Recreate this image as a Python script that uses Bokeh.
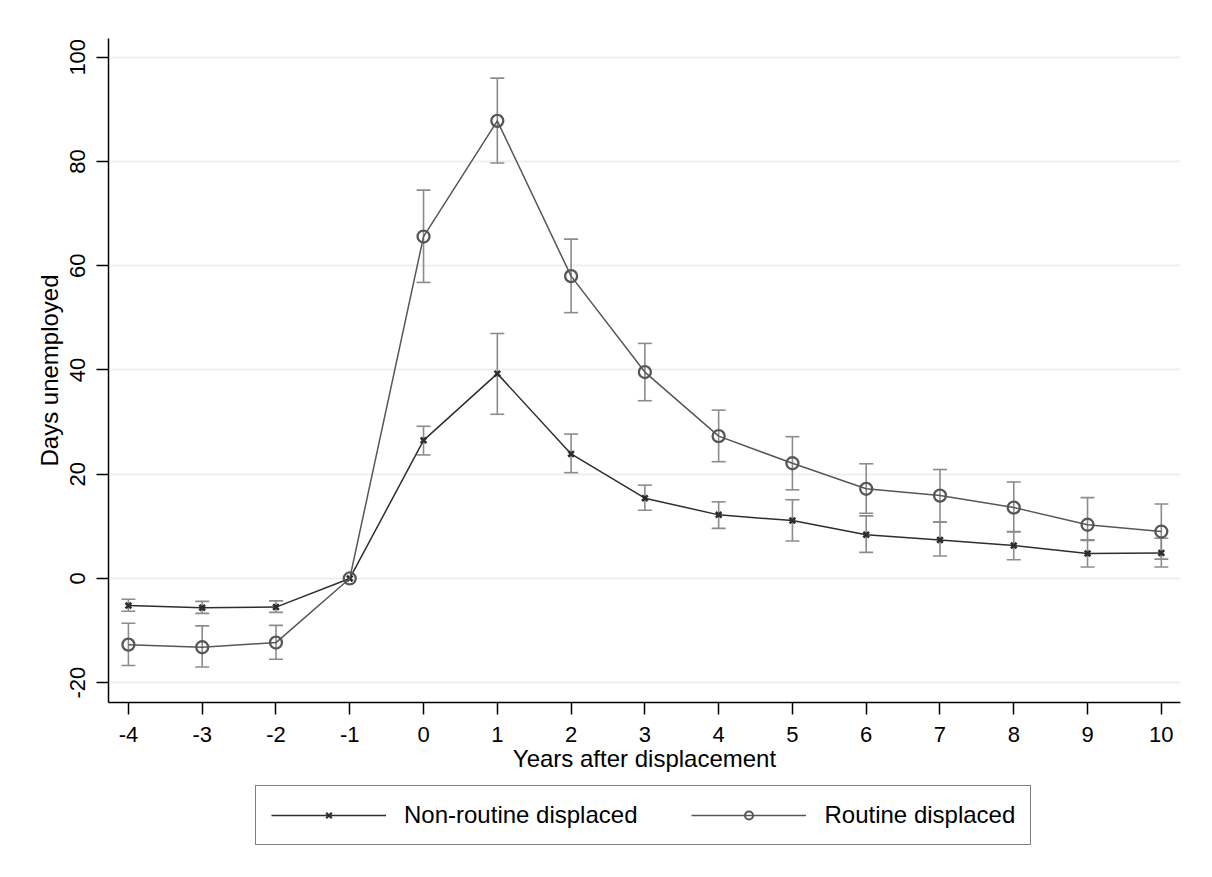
from bokeh.embed import file_html
from bokeh.resources import INLINE
from bokeh.layouts import column
from bokeh.models import ColumnDataSource, Legend, LegendItem, Whisker, TeeHead, FixedTicker
from bokeh.plotting import figure

# years relative to displacement
years = [-4, -3, -2, -1, 0, 1, 2, 3, 4, 5, 6, 7, 8, 9, 10]

nonroutine = [-5.2, -5.6, -5.5, 0, 26.5, 39.3, 23.9, 15.4, 12.2, 11.1, 8.4, 7.4, 6.3, 4.8, 4.9]
nonroutine_lo = [-6.3, -6.7, -6.5, 0, 23.7, 31.5, 20.3, 13.1, 9.6, 7.2, 5.0, 4.3, 3.6, 2.2, 2.2]
nonroutine_hi = [-4.0, -4.4, -4.3, 0, 29.2, 47.0, 27.7, 17.9, 14.7, 15.1, 12.0, 10.8, 9.0, 7.4, 7.7]

routine = [-12.7, -13.2, -12.3, 0, 65.6, 87.8, 58.0, 39.6, 27.3, 22.1, 17.2, 15.9, 13.6, 10.3, 9.0]
routine_lo = [-16.7, -17.0, -15.5, 0, 56.8, 79.7, 51.0, 34.1, 22.4, 17.0, 12.5, 10.8, 8.9, 7.3, 3.7]
routine_hi = [-8.6, -9.1, -9.0, 0, 74.5, 96.0, 65.1, 45.1, 32.3, 27.2, 22.0, 20.9, 18.5, 15.5, 14.3]

y_ticks = [-20, 0, 20, 40, 60, 80, 100]

FONT = "Liberation Sans"
BAR = "#8c8c8c"
NR_COL = "#2e2e2e"
R_COL = "#575757"

p = figure(
    width=1196,
    height=780,
    x_range=(-4.27, 10.26),
    y_range=(-23.8, 103.6),
    output_backend="svg",
    toolbar_location=None,
    min_border_left=108,
    min_border_top=38,
    min_border_right=16,
    min_border_bottom=78,
)

# error bars, skipping the reference year
def bars(lo, hi):
    keep = [i for i, y in enumerate(years) if y != -1]
    return ColumnDataSource(dict(
        x=[years[i] for i in keep],
        lo=[lo[i] for i in keep],
        hi=[hi[i] for i in keep],
    ))

for lo, hi in [(routine_lo, routine_hi), (nonroutine_lo, nonroutine_hi)]:
    w = Whisker(
        source=bars(lo, hi), base="x", lower="lo", upper="hi",
        line_color=BAR, line_width=1.6, level="underlay",
    )
    w.upper_head = TeeHead(size=14, line_color=BAR, line_width=1.6)
    w.lower_head = TeeHead(size=14, line_color=BAR, line_width=1.6)
    p.add_layout(w)

p.line(years, nonroutine, line_color=NR_COL, line_width=1.5)
p.scatter(years, nonroutine, marker="x", size=8, line_color=NR_COL, line_width=2.6)
p.line(years, routine, line_color=R_COL, line_width=1.5)
p.scatter(years, routine, marker="circle", size=12, fill_color=None,
          line_color=R_COL, line_width=2.3)

p.xaxis.ticker = FixedTicker(ticks=years)
p.yaxis.ticker = FixedTicker(ticks=y_ticks)
# plain hyphen for negatives, as in the original
p.xaxis.major_label_overrides = {t: str(t) for t in years}
p.yaxis.major_label_overrides = {t: str(t) for t in y_ticks}
p.xaxis.axis_label = "Years after displacement"
p.yaxis.axis_label = "Days unemployed"
p.yaxis.major_label_orientation = "vertical"

for ax in p.axis:
    ax.axis_line_color = "black"
    ax.axis_line_width = 1.5
    ax.major_tick_line_color = "black"
    ax.major_tick_line_width = 1.5
    ax.major_tick_in = 0
    ax.major_tick_out = 12
    ax.minor_tick_line_color = None
    ax.major_label_text_font = FONT
    ax.major_label_text_font_size = "22px"
    ax.major_label_text_color = "black"
    ax.axis_label_text_font = FONT
    ax.axis_label_text_font_size = "24px"
    ax.axis_label_text_font_style = "normal"
    ax.axis_label_text_color = "black"

p.xaxis.major_label_standoff = 12
p.yaxis.major_label_standoff = 11
p.xaxis.axis_label_standoff = 0
p.yaxis.axis_label_standoff = 5

p.xgrid.grid_line_color = None
p.ygrid.grid_line_color = "#eaf1f3"
p.ygrid.grid_line_width = 2
p.outline_line_color = None

# legend lives in its own strip under the chart; the series are drawn
# there too but far outside its ranges, so only the legend shows
leg = figure(
    width=1196, height=81, x_range=(100, 101), y_range=(100, 101),
    output_backend="svg", toolbar_location=None,
    min_border=0, outline_line_color=None,
)
leg.axis.visible = False
leg.grid.visible = False
l1 = leg.line(years, nonroutine, line_color=NR_COL, line_width=1.5)
s1 = leg.scatter(years, nonroutine, marker="x", size=7, line_color=NR_COL, line_width=2.2)
l2 = leg.line(years, routine, line_color=R_COL, line_width=1.5)
s2 = leg.scatter(years, routine, marker="circle", size=9, fill_color=None,
                 line_color=R_COL, line_width=2)

legend = Legend(
    items=[
        LegendItem(label="Non-routine displaced", renderers=[l1, s1], index=0),
        LegendItem(label="Routine displaced", renderers=[l2, s2], index=0),
    ],
    orientation="horizontal",
    location=(147, 16),
    glyph_width=115,
    glyph_height=20,
    label_standoff=18,
    spacing=54,
    padding=15,
    margin=0,
    border_line_color="black",
    border_line_width=1.8,
    label_text_font=FONT,
    label_text_font_size="24px",
    label_text_color="black",
)
leg.add_layout(legend)

page = column(p, leg, spacing=0)
open("out.html", "w").write(file_html(page, INLINE))
